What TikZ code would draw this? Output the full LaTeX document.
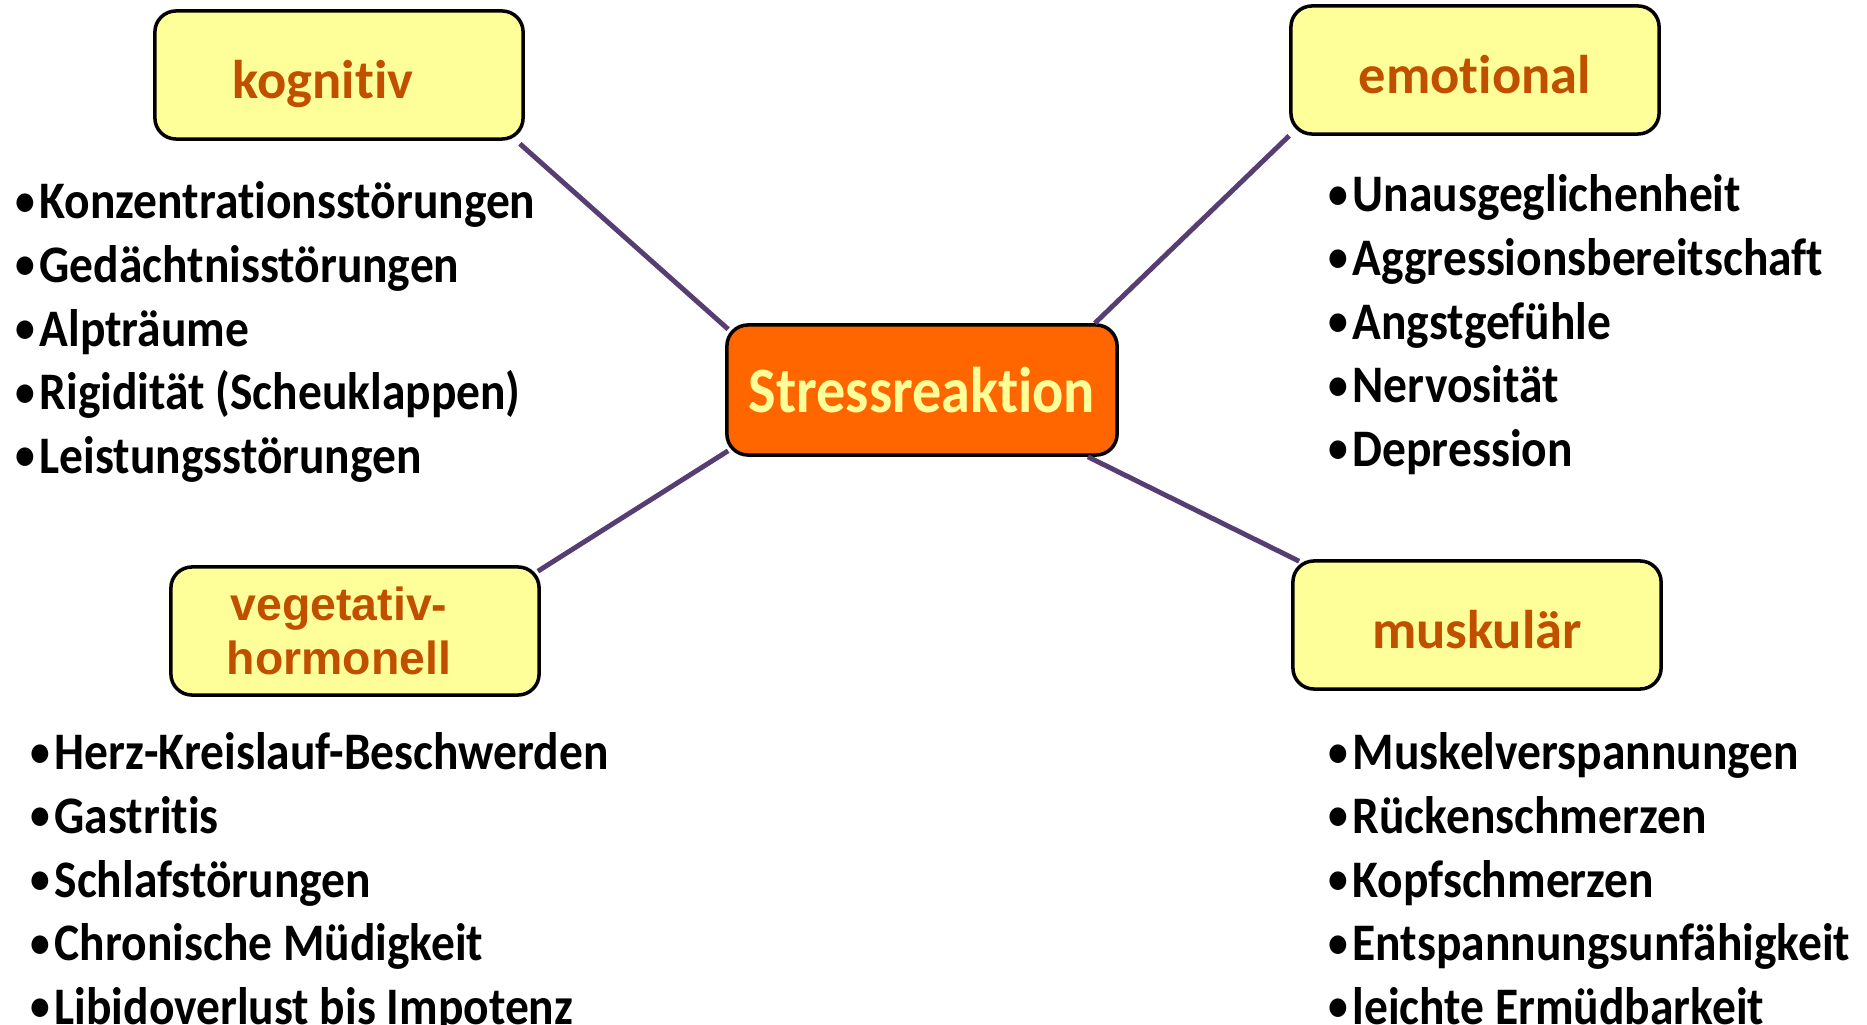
\documentclass[tikz,border=0pt]{standalone}
\usepackage{fontspec}
\setmainfont{Carlito}[Ligatures=NoCommon]
\newfontfamily\listfont{Carlito}[Ligatures=NoCommon,FakeStretch=0.9]
\newfontfamily\arialfont{Liberation Sans}
\usetikzlibrary{calc}
\definecolor{boxyellow}{HTML}{FFFF99}
\definecolor{stressorange}{HTML}{FF6600}
\definecolor{titlebrown}{HTML}{C04F00}
\definecolor{spoke}{HTML}{563D72}
\newcommand{\blt}{\raisebox{1pt}{\fontsize{12.5pt}{12pt}\selectfont•}\kern1.2pt}

\begin{document}
\begin{tikzpicture}[x=0.01cm,y=-0.01cm,
      aspect/.style={rectangle,draw=black,fill=boxyellow,line width=1pt,rounded corners=6pt,
                     minimum width=3.68cm,minimum height=1.28cm,align=center,text=titlebrown,
                     font=\bfseries\fontsize{15.5pt}{18pt}\selectfont},
      onerow/.style={text height=4.6mm,text depth=0pt},
      stressbox/.style={rectangle,draw=black,fill=stressorange,line width=1pt,rounded corners=6pt,
                        minimum width=3.9cm,minimum height=1.3cm,inner xsep=1pt,text=boxyellow,
                        font=\listfont\bfseries\fontsize{18.4pt}{22pt}\selectfont},
      symptoms/.style={anchor=north west,inner sep=0pt,align=left,
                       font=\listfont\bfseries\fontsize{15pt}{18.1pt}\selectfont},
      spokeline/.style={draw=spoke,line width=1.4pt}
    ]
    \useasboundingbox (0,0) rectangle (1867,1025);

    % Central node
    \node[stressbox] (stress) at (922,390) {Stressreaktion};

    % Aspects
    \node[aspect,onerow] (kog) at (339,75) {kognitiv\hspace*{3.2mm}};
    \node[aspect,onerow] (emo) at (1475,70) {emotional};
    \node[aspect,font=\arialfont\bfseries\fontsize{13.2pt}{15.3pt}\selectfont] (veg) at (355,631)
      {vegetativ-\hspace*{3.2mm}\\hormonell\hspace*{3.2mm}};
    \node[aspect,onerow] (mus) at (1477,625) {muskulär};

    % Symptom lists
    \node[symptoms] (kogList) at (15,181)
      {\blt Konzentrationsstörungen\\\blt Gedächtnisstörungen\\\blt Alpträume\\
       \blt Rigidität (Scheuklappen)\\\blt Leistungsstörungen};
    \node[symptoms] (emoList) at (1328,174)
      {\blt Unausgeglichenheit\\\blt Aggressionsbereitschaft\\\blt Angstgefühle\\
       \blt Nervosität\\\blt Depression};
    \node[symptoms] (vegList) at (30,732)
      {\blt Herz-Kreislauf-Beschwerden\\\blt Gastritis\\\blt Schlafstörungen\\
       \blt Chronische Müdigkeit\\\blt Libidoverlust bis Impotenz};
    \node[symptoms] (musList) at (1328,732)
      {\blt Muskelverspannungen\\\blt Rückenschmerzen\\\blt Kopfschmerzen\\
       \blt Entspannungsunfähigkeit\\\blt leichte Ermüdbarkeit};

    % Spokes
    \draw[spokeline] ($(kog.south east)+(-5,3)$) -- ($(stress.north west)+(3,6)$);
    \draw[spokeline] (emo.south west) -- ($(stress.north east)+(-24,0)$);
    \draw[spokeline] ($(veg.north east)+(-3,6)$) -- ($(stress.south west)+(3,-6)$);
    \draw[spokeline] ($(stress.south east)+(-31,0)$) -- ($(mus.north west)+(8,2)$);

  \end{tikzpicture}
\end{document}
